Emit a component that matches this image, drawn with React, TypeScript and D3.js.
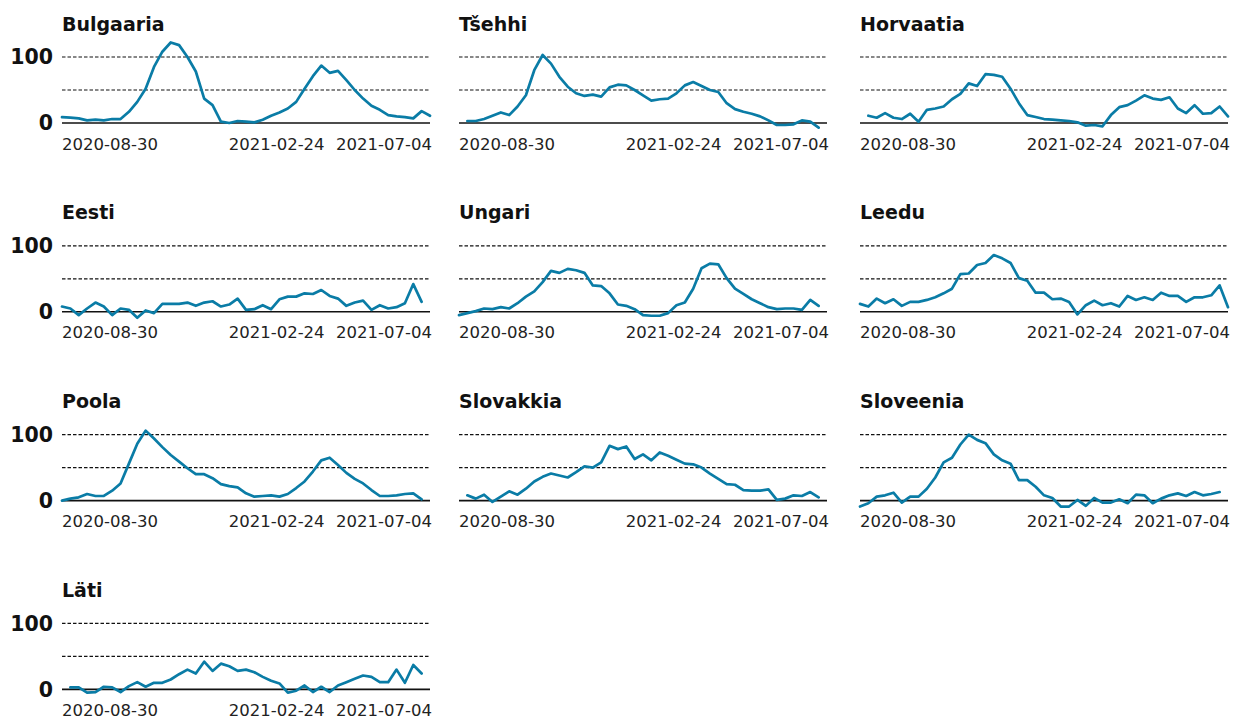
import React from 'react';
import * as d3 from 'd3';

// weekly values, first week 2020-08-30 (null = no data)
const bulgaaria = [9,8,7,4,5,4,6,6,17,32,52,85,108,122,118,100,78,37,27,2,0,3,2,1,5,11,16,22,32,52,71,87,76,79,65,50,37,26,20,12,10,9,7,18,11];
const tsehhi = [null,3,3,6,11,16,12,25,42,80,103,90,70,55,45,41,43,40,54,58,57,50,42,34,36,37,45,57,62,56,50,47,30,21,17,14,10,4,-3,-3,-2,4,2,-7,null];
const horvaatia = [null,11,8,15,8,6,14,2,20,22,25,36,44,60,56,74,73,70,52,30,12,9,6,5,4,3,1,-4,-3,-5,12,24,27,34,42,37,35,39,22,15,27,14,15,25,10];
const eesti = [8,5,-5,5,14,8,-5,5,3,-9,2,-2,12,12,12,14,9,14,16,8,11,20,3,4,10,4,19,23,23,28,27,33,24,20,9,14,17,3,10,5,7,13,42,15,null];
const ungari = [-5,-2,1,5,4,7,5,13,23,31,45,62,59,65,63,59,40,39,28,11,9,4,-5,-6,-6,-2,10,14,35,66,73,72,51,35,27,19,13,7,4,5,5,3,18,9,null];
const leedu = [12,8,20,13,19,9,15,15,18,22,28,35,57,58,71,74,86,81,74,51,47,29,29,19,20,15,-4,10,17,10,13,8,24,18,22,18,29,24,24,15,22,22,25,40,7];
const poola = [0,3,5,10,7,7,15,26,56,86,106,94,81,69,59,49,40,40,34,25,22,20,11,6,7,8,6,10,19,29,44,61,65,54,42,33,26,16,7,7,8,10,11,2,null];
const slovakkia = [null,8,3,9,-2,6,14,9,18,29,36,41,38,35,43,52,50,58,83,78,82,63,70,61,73,68,62,56,55,50,41,33,25,24,16,15,15,17,1,3,8,7,13,5,null];
const sloveenia = [-9,-4,6,8,12,-3,6,6,18,35,58,65,85,100,92,87,70,61,56,31,31,21,8,4,-9,-9,1,-8,4,-3,-3,2,-4,9,8,-4,3,8,11,7,13,8,10,13,null];
const lati = [null,3,3,-5,-4,4,3,-4,5,11,4,10,10,15,23,30,24,42,28,39,35,28,30,26,19,13,9,-5,-2,6,-4,4,-4,6,11,16,21,19,11,11,30,10,37,24,null];

const countries = ['Bulgaaria','Tšehhi','Horvaatia','Eesti','Ungari','Leedu','Poola','Slovakkia','Sloveenia','Läti'];
const series = [bulgaaria,tsehhi,horvaatia,eesti,ungari,leedu,poola,slovakkia,sloveenia,lati];

const startDate = new Date(2020, 7, 30);
const endDate = new Date(2021, 6, 4);
const dates = bulgaaria.map((_, i) => d3.timeDay.offset(startDate, i * 7));

const xTicks = ['2020-08-30', '2021-02-24', '2021-07-04'];
const yTicks = [0, 100];
const gridLines = [50, 100];

const colLeft = [62, 459, 860];
const rowTop = [57, 245.8, 434.6, 623.4];
const w = 368, h = 66;
const font = '"DejaVu Sans", sans-serif';
const lineColor = '#0a7ca6';

function Panel({ name, values, col, row }: any) {
  const x = d3.scaleTime().domain([startDate, endDate]).range([0, w]);
  const y = d3.scaleLinear().domain([0, 100]).range([h, 0]);
  const line = d3.line<any>()
    .defined(d => d[1] != null)
    .x(d => x(d[0]))
    .y(d => y(d[1]));
  const pts = values.map((v: any, i: number) => [dates[i], v]);
  const parse = d3.timeParse('%Y-%m-%d');
  return (
    <g transform={`translate(${colLeft[col]},${rowTop[row]})`}>
      <text x={0} y={-26.5} fontFamily={font} fontWeight="bold" fontSize={19} fill="#111">{name}</text>
      {gridLines.map(g => (
        <line key={g} x1={0} x2={w} y1={y(g)} y2={y(g)} stroke="#111" strokeWidth={1.2} strokeDasharray="3.5,2" />
      ))}
      <line x1={0} x2={w} y1={y(0)} y2={y(0)} stroke="#111" strokeWidth={1.6} />
      {col === 0 && yTicks.map(t => (
        <text key={t} x={-9} y={y(t)} dy="0.36em" textAnchor="end" fontFamily={font} fontWeight="bold" fontSize={20.5} fill="#111">{t}</text>
      ))}
      <path d={line(pts) || ''} fill="none" stroke={lineColor} strokeWidth={2.7} strokeLinejoin="round" strokeLinecap="round" />
      {xTicks.map((t, i) => (
        <text key={t} x={i === 0 ? 0 : i === xTicks.length - 1 ? w + 2 : x(parse(t) as Date) + 2}
          y={y(0) + 26.5} textAnchor={i === 0 ? 'start' : i === xTicks.length - 1 ? 'end' : 'middle'}
          fontFamily={font} fontSize={16.5} fill="#222">{t}</text>
      ))}
    </g>
  );
}

export default function App() {
  return (
    <svg width={1238} height={718} style={{ position: 'absolute', left: 0, top: 0, background: '#fff' }}>
      {countries.map((c, i) => (
        <Panel key={c} name={c} values={series[i]} col={i % 3} row={Math.floor(i / 3)} />
      ))}
    </svg>
  );
}
